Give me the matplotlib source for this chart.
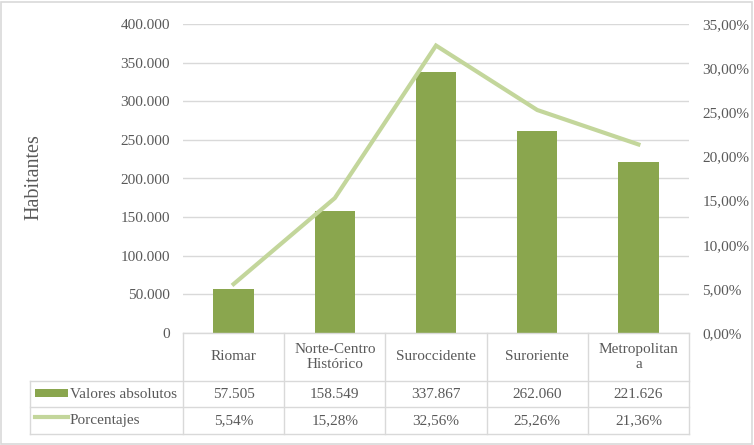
import numpy as np
import matplotlib.pyplot as plt
from matplotlib.ticker import FuncFormatter
from matplotlib.transforms import blended_transform_factory
from matplotlib.patches import Rectangle
from matplotlib.lines import Line2D

# datos
zonas = ['Riomar', 'Norte-Centro\nHistórico', 'Suroccidente', 'Suroriente', 'Metropolitan\na']
valores = [57505, 158549, 337867, 262060, 221626]
porcentajes = [5.54, 15.28, 32.56, 25.26, 21.36]
serie_barras = 'Valores absolutos'
serie_linea = 'Porcentajes'

W, H = 754, 445
gris_txt = '#595959'
gris_lin = '#D9D9D9'
verde = '#8AA64E'
verde_claro = '#C3D69B'
fuente = 'Liberation Serif'

plt.rcParams['font.family'] = fuente

def miles(v, pos=None):
    return f'{int(round(v)):,}'.replace(',', '.')

def pct(v, pos=None):
    return f'{v:.2f}%'.replace('.', ',')

fig = plt.figure(figsize=(W / 100, H / 100), dpi=100)
# borde del grafico
fig.patches.append(Rectangle((1 / W, 1 / H), 1 - 3 / W, 1 - 3 / H, transform=fig.transFigure,
                             fill=False, edgecolor=gris_lin, linewidth=1.2))

x0, x1, ytop, ybot = 183, 689, 24, 333
ax = fig.add_axes([x0 / W, (H - ybot) / H, (x1 - x0) / W, (ybot - ytop) / H])
x = np.arange(len(zonas))
ax.bar(x, valores, width=0.4, color=verde, zorder=2)
ax.set_xlim(-0.5, len(zonas) - 0.5)
ax.set_ylim(0, 400000)
ax.set_yticks(np.arange(0, 400001, 50000))
ax.yaxis.set_major_formatter(FuncFormatter(miles))
ax.grid(axis='y', color=gris_lin, linewidth=1, zorder=0)
ax.set_xticks([])
for s in ax.spines.values():
    s.set_visible(False)
ax.tick_params(axis='y', length=0, pad=9.5, labelsize=11, labelcolor=gris_txt)
fig.text(34 / W, 1 - 177 / H, 'Habitantes', rotation=90, ha='center', va='center',
         fontsize=14.5, color=gris_txt)

ax2 = ax.twinx()
ax2.plot(x, porcentajes, color=verde_claro, linewidth=3, solid_joinstyle='miter', zorder=3)
ax2.set_ylim(0, 35)
ax2.set_yticks(np.arange(0, 35.1, 5))
ax2.yaxis.set_major_formatter(FuncFormatter(pct))
for s in ax2.spines.values():
    s.set_visible(False)
ax2.tick_params(axis='y', length=0, pad=9.5, labelsize=11, labelcolor=gris_txt)

# tabla de datos
tr = blended_transform_factory(ax.transData, fig.transFigure)
def fy(py):
    return 1 - py / H

r1, r2, r3 = 381, 407, 434
lw = 1
fig.add_artist(Line2D([x0 / W, x1 / W], [fy(ybot)] * 2, color=gris_lin, lw=lw))
for ry in (r1, r2, r3):
    fig.add_artist(Line2D([30 / W, x1 / W], [fy(ry)] * 2, color=gris_lin, lw=lw))
fig.add_artist(Line2D([30 / W] * 2, [fy(r1), fy(r3)], color=gris_lin, lw=lw))
for b in np.arange(-0.5, len(zonas), 1.0):
    ax.add_artist(Line2D([b, b], [fy(ybot), fy(r3)], transform=tr, color=gris_lin, lw=lw, clip_on=False))

fs = 11
for i, z in enumerate(zonas):
    ax.text(i, fy((ybot + r1) / 2), z, transform=tr, ha='center', va='center', fontsize=fs,
            color=gris_txt, linespacing=1.15, clip_on=False)
    ax.text(i, fy((r1 + r2) / 2), miles(valores[i]), transform=tr, ha='center', va='center',
            fontsize=fs, color=gris_txt, clip_on=False)
    ax.text(i, fy((r2 + r3) / 2), pct(porcentajes[i]), transform=tr, ha='center', va='center',
            fontsize=fs, color=gris_txt, clip_on=False)

# claves de leyenda
fig.patches.append(Rectangle((35 / W, fy(397)), 33 / W, 8 / H, transform=fig.transFigure,
                             facecolor=verde, edgecolor='none'))
fig.add_artist(Line2D([35 / W, 68 / W], [fy(417)] * 2, color=verde_claro, lw=3))
fig.text(70 / W, fy((r1 + r2) / 2), serie_barras, ha='left', va='center', fontsize=fs, color=gris_txt)
fig.text(70 / W, fy((r2 + r3) / 2), serie_linea, ha='left', va='center', fontsize=fs, color=gris_txt)

fig.savefig('out.png', dpi=100)
